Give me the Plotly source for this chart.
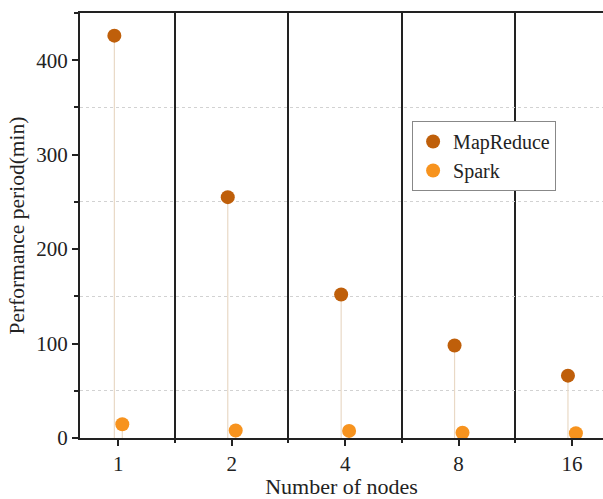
import plotly.graph_objects as go

categories = ["1", "2", "4", "8", "16"]
mapreduce = [426, 255, 152, 98, 66]
spark = [14.5, 8, 7.5, 5.6, 5]

MR_COLOR = "#BF5F0A"
SP_COLOR = "#F7931E"
STEM_COLOR = "#E9D9C6"
FONT = "Liberation Serif"

idx = list(range(len(categories)))
off = 0.035
x_mr = [i - off for i in idx]
x_sp = [i + off for i in idx]

fig = go.Figure()
fig.add_trace(go.Scatter(
    x=x_mr, y=mapreduce, mode="markers", name="MapReduce",
    marker=dict(size=14, color=MR_COLOR),
    error_y=dict(type="data", symmetric=False, array=[0]*len(idx),
                 arrayminus=mapreduce, color=STEM_COLOR, thickness=1.2, width=0),
))
fig.add_trace(go.Scatter(
    x=x_sp, y=spark, mode="markers", name="Spark",
    marker=dict(size=14, color=SP_COLOR),
    error_y=dict(type="data", symmetric=False, array=[0]*len(idx),
                 arrayminus=spark, color=STEM_COLOR, thickness=1.2, width=0),
))

fig.update_layout(
    width=603, height=499,
    margin=dict(l=80, r=0, t=13, b=61),
    paper_bgcolor="white", plot_bgcolor="white",
    font=dict(family=FONT, size=21, color="#222"),
    showlegend=True,
    legend=dict(x=0.635, y=0.746, xanchor="left", yanchor="top",
                bordercolor="#888", borderwidth=1, bgcolor="white",
                font=dict(family=FONT, size=20, color="#222"),
                tracegroupgap=0, itemwidth=30),
    xaxis=dict(
        automargin=False,
        range=[-0.338, 4.274], tickmode="array", tickvals=idx, ticktext=categories,
        showline=True, linecolor="#222", linewidth=2, mirror=True,
        ticks="outside", ticklen=6, tickwidth=2, tickcolor="#222",
        showgrid=False, zeroline=False,
        minor=dict(tickmode="array", tickvals=[0.5, 1.5, 2.5, 3.5], ticks="outside",
                   ticklen=3, tickwidth=2, tickcolor="#222",
                   showgrid=True, gridcolor="#222", gridwidth=2),
        title=dict(text="Number of nodes", font=dict(family=FONT, size=22, color="#222"), standoff=9),
    ),
    yaxis=dict(
        automargin=False,
        range=[0, 450], tickmode="linear", tick0=0, dtick=100,
        showline=True, linecolor="#222", linewidth=2,
        ticks="outside", ticklen=6, tickwidth=2, tickcolor="#222",
        showgrid=False, zeroline=False,
        minor=dict(tick0=0, dtick=50, ticks="outside", ticklen=4, tickwidth=1.5,
                   tickcolor="#222", showgrid=True, gridcolor="#d2d2d2",
                   griddash="dot", gridwidth=1),
        title=dict(text="Performance period(min)", font=dict(family=FONT, size=21.5, color="#222"), standoff=6),
    ),
)

fig.write_html("out.html")
